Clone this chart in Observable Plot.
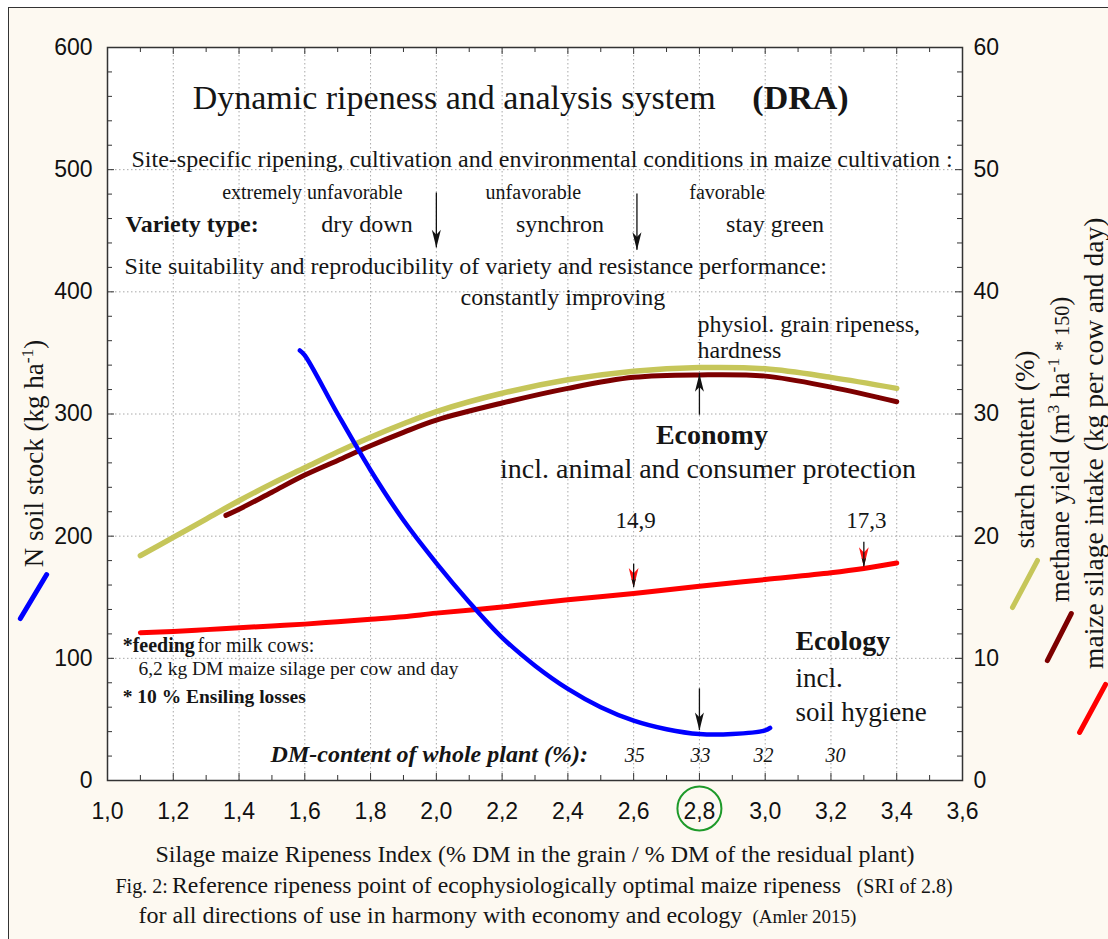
<!DOCTYPE html>
<html><head><meta charset="utf-8">
<script src="https://cdn.jsdelivr.net/npm/d3@7"></script>
<script src="https://cdn.jsdelivr.net/npm/@observablehq/plot@0.6"></script>
<style>
html,body{margin:0;padding:0;background:#fff;overflow:hidden}
#wrap{position:relative;width:1108px;height:939px}
#bg{position:absolute;left:8px;top:7px;right:0;bottom:0;background:#fdf9f1;border-left:1.5px solid #333;border-top:1.5px solid #333}
#chart{position:absolute;left:0;top:0}
</style></head><body>
<div id="wrap"><div id="bg"></div><div id="chart"></div></div>
<script>
// ---- tick values ----
const xTicks = [1.0,1.2,1.4,1.6,1.8,2.0,2.2,2.4,2.6,2.8,3.0,3.2,3.4,3.6];
const xMinor = [1.1,1.3,1.5,1.7,1.9,2.1,2.3,2.5,2.7,2.9,3.1,3.3,3.5];
const yTicksLeft = [0,100,200,300,400,500,600];
const yMinor = [20,40,60,80,120,140,160,180,220,240,260,280,320,340,360,380,420,440,460,480,520,540,560,580];
const rightTickLabels = ["0","10","20","30","40","50","60"];

// ---- series (left axis: N soil stock kg/ha) ----
const nSoilSRI   = [1.585,1.6,1.7,1.8,1.9,2.0,2.1,2.2,2.3,2.4,2.5,2.6,2.7,2.8,2.9,3.0,3.015];
const nSoilStock = [352,348,300,254,213,178,146,117,94,75,60,49,42,38,38,41,43];
// ---- series (right axis, 0-60) ----
const starchSRI = [1.1,1.2,1.3,1.4,1.5,1.6,1.7,1.8,1.9,2.0,2.2,2.4,2.6,2.8,3.0,3.2,3.4];
const starchPct = [18.4,19.9,21.4,22.9,24.3,25.6,26.9,28.1,29.2,30.2,31.7,32.8,33.5,33.8,33.7,33.0,32.1];
const methaneSRI = [1.36,1.4,1.5,1.6,1.7,1.8,1.9,2.0,2.2,2.4,2.6,2.8,3.0,3.2,3.4];
const methaneYield = [21.7,22.2,23.6,25.0,26.2,27.4,28.5,29.5,30.9,32.1,33.0,33.2,33.1,32.2,31.0];
const intakeSRI = [1.1,1.2,1.3,1.4,1.5,1.6,1.7,1.8,1.9,2.0,2.2,2.4,2.6,2.8,3.0,3.2,3.3,3.4];
const silageIntake = [12.1,12.2,12.35,12.5,12.65,12.8,13.0,13.2,13.4,13.7,14.2,14.8,15.3,15.9,16.45,17.0,17.35,17.8];

// ---- annotation arrows (SRI, from, to in left-axis units) ----
const arrowsDown = [{x:2.0,from:481,to:436},{x:2.61,from:480,to:434},{x:2.8,from:75,to:41}];
const arrowsUp = [{x:2.8,from:299,to:333}];
const redMarks = [{x:2.6,from:177,to:158},{x:3.3,from:195,to:175}];

const ratio = 10; // right axis scale factor
const zip = (xs, ys, k=1) => xs.map((x,i) => ({x, y: ys[i]*k}));
const nSoil = zip(nSoilSRI, nSoilStock);
const starch = zip(starchSRI, starchPct, ratio);
const methane = zip(methaneSRI, methaneYield, ratio);
const intake = zip(intakeSRI, silageIntake, ratio);

const fmt = d => d.toFixed(1).replace(".", ",");
const serif = "Liberation Serif";
const ink = "#151515";
function T(text, x, y, o = {}) {
  return Plot.text([text], {x, y, text: d => d, fontFamily: serif, fontSize: o.size || 24,
    fontWeight: o.weight || "normal", fontStyle: o.style || "normal", textAnchor: o.anchor || "start",
    lineAnchor: o.line || "bottom", rotate: o.rotate || 0, fill: o.fill || ink});
}
const headDown = {draw(ctx, size) { const s = Math.sqrt(size / Math.PI);
  ctx.moveTo(0, 0); ctx.lineTo(-0.75*s, -3*s); ctx.lineTo(0, -2.2*s); ctx.lineTo(0.75*s, -3*s); ctx.closePath(); }};
const headUp = {draw(ctx, size) { const s = Math.sqrt(size / Math.PI);
  ctx.moveTo(0, 0); ctx.lineTo(-0.75*s, 3*s); ctx.lineTo(0, 2.2*s); ctx.lineTo(0.75*s, 3*s); ctx.closePath(); }};

const W = 1108, H = 939, mL = 107, mR = 146, mT = 47, mB = 159;
const fw = W - mL - mR, fh = H - mT - mB;

const swatches = [
  {x1:0.735,y1:132.6,x2:0.815,y2:168.6,c:"#0000ff"},
  {x1:3.752,y1:141.6,x2:3.828,y2:180.1,c:"#c6c65a"},
  {x1:3.858,y1:98.2,x2:3.931,y2:136.7,c:"#7d0000"},
  {x1:3.956,y1:39.3,x2:4.035,y2:78.6,c:"#ff0000"}
];

const plot = Plot.plot({
  width: W, height: H, marginLeft: mL, marginRight: mR, marginTop: mT, marginBottom: mB,
  x: {domain: [1.0, 3.6], axis: null},
  y: {domain: [0, 600], axis: null},
  style: {background: "transparent", fontFamily: "Liberation Sans", fontSize: "23px", color: "#111", overflow: "visible"},
  marks: [
    Plot.frame({fill: "white", stroke: null}),
    Plot.gridX(xTicks.slice(1, -1), {stroke: "#a8a8a8", strokeOpacity: 1, strokeDasharray: "1.5,2.5"}),
    Plot.gridY(yTicksLeft.slice(1, -1), {stroke: "#a8a8a8", strokeOpacity: 1, strokeDasharray: "1.5,2.5"}),
    // inward ticks
    Plot.tickX(xTicks, {x: d => d, insetTop: fh - 7, stroke: "#333"}),
    Plot.tickX(xMinor, {x: d => d, insetTop: fh - 5, stroke: "#333"}),
    Plot.tickX(xTicks, {x: d => d, insetBottom: fh - 7, stroke: "#333"}),
    Plot.tickX(xMinor, {x: d => d, insetBottom: fh - 5, stroke: "#333"}),
    Plot.tickY(yTicksLeft, {y: d => d, insetRight: fw - 7, stroke: "#333"}),
    Plot.tickY(yMinor, {y: d => d, insetRight: fw - 5, stroke: "#333"}),
    Plot.tickY(yTicksLeft, {y: d => d, insetLeft: fw - 7, stroke: "#333"}),
    Plot.tickY(yMinor, {y: d => d, insetLeft: fw - 5, stroke: "#333"}),
    Plot.frame({stroke: "#333", strokeWidth: 1.5}),
    Plot.axisX(xTicks, {tickSize: 0, tickPadding: 22, tickFormat: fmt, label: null, fontSize: 23}),
    Plot.axisY(yTicksLeft, {anchor: "left", tickSize: 0, tickPadding: 15, label: null, fontSize: 23}),
    Plot.axisY(yTicksLeft, {anchor: "right", tickSize: 0, tickPadding: 11, label: null, fontSize: 23,
      tickFormat: (d, i) => rightTickLabels[i]}),
    // curves
    Plot.line(starch, {x: "x", y: "y", stroke: "#c6c65a", strokeWidth: 5.5, curve: "catmull-rom"}),
    Plot.line(methane, {x: "x", y: "y", stroke: "#7d0000", strokeWidth: 5, curve: "catmull-rom"}),
    Plot.line(intake, {x: "x", y: "y", stroke: "#ff0000", strokeWidth: 5, curve: "catmull-rom"}),
    Plot.line(nSoil, {x: "x", y: "y", stroke: "#0000ff", strokeWidth: 4.5, curve: "catmull-rom"}),
    // legend swatches
    Plot.link(swatches, {x1: "x1", y1: "y1", x2: "x2", y2: "y2", stroke: "c", strokeWidth: 5, strokeLinecap: "round"}),
    // arrows
    Plot.ruleX(arrowsDown, {x: "x", y1: "from", y2: "to", stroke: "#111", strokeWidth: 1.3}),
    Plot.dot(arrowsDown, {x: "x", y: "to", symbol: headDown, r: 6, fill: "#111", stroke: null}),
    Plot.ruleX(arrowsUp, {x: "x", y1: "from", y2: "to", stroke: "#111", strokeWidth: 1.3}),
    Plot.dot(arrowsUp, {x: "x", y: "to", symbol: headUp, r: 6, fill: "#111", stroke: null}),
    Plot.dot(redMarks, {x: "x", y: "to", symbol: headDown, r: 6.5, fill: "#ff1010", stroke: null}),
    Plot.ruleX(redMarks, {x: "x", y1: "from", y2: "to", stroke: "#111", strokeWidth: 1.3}),
    Plot.dot(redMarks, {x: "x", y: "to", symbol: headDown, r: 3, fill: "#111", stroke: null}),
    // circle around 2,8
    Plot.dot([2.8], {x: d => d, y: -22.9, r: 22, stroke: "#1e9a2a", strokeWidth: 2, fill: "none"}),
    // texts
    T("Dynamic ripeness and analysis system", 1.259, 550, {size: 34}),
    T("(DRA)", 2.961, 550, {size: 34, weight: "bold"}),
    T("Site-specific ripening, cultivation and environmental conditions in maize cultivation :", 1.073, 502, {size: 24}),
    T("extremely unfavorable", 1.623, 475.6, {size: 20, anchor: "middle"}),
    T("unfavorable", 2.295, 475.6, {size: 20, anchor: "middle"}),
    T("favorable", 2.884, 475.6, {size: 20, anchor: "middle"}),
    T("Variety type:", 1.055, 448.6, {size: 24, weight: "bold"}),
    T("dry down", 1.789, 448.6, {size: 24, anchor: "middle"}),
    T("synchron", 2.376, 448.6, {size: 24, anchor: "middle"}),
    T("stay green", 3.030, 448.6, {size: 24, anchor: "middle"}),
    T("Site suitability and reproducibility of variety and resistance performance:", 1.052, 415, {size: 24}),
    T("constantly improving", 2.385, 389.6, {size: 24, anchor: "middle"}),
    T("physiol. grain ripeness,", 2.794, 367.5, {size: 24}),
    T("hardness", 2.794, 346.2, {size: 24}),
    T("Economy", 2.838, 275.8, {size: 28, weight: "bold", anchor: "middle"}),
    T("incl. animal and consumer protection", 2.826, 248, {size: 28, anchor: "middle"}),
    T("14,9", 2.606, 206.3, {size: 23, anchor: "middle"}),
    T("17,3", 3.308, 206.3, {size: 23, anchor: "middle"}),
    T("Ecology", 3.092, 107, {size: 28, weight: "bold"}),
    T("incl.", 3.092, 76.5, {size: 27}),
    T("soil hygiene", 3.092, 49.1, {size: 27}),
    T("*feeding", 1.046, 105, {size: 20, weight: "bold"}),
    T("for milk cows:", 1.274, 105, {size: 20}),
    T("6,2 kg DM maize silage per cow and day", 1.094, 86, {size: 19.5}),
    T("* 10 % Ensiling losses", 1.046, 63.3, {size: 19.5, weight: "bold"}),
    T("DM-content of whole plant (%):", 1.496, 15.5, {size: 24, weight: "bold", style: "italic"}),
    T("35", 2.603, 15.5, {size: 20, style: "italic", anchor: "middle"}),
    T("33", 2.803, 15.5, {size: 20, style: "italic", anchor: "middle"}),
    T("32", 2.995, 15.5, {size: 20, style: "italic", anchor: "middle"}),
    T("30", 3.214, 15.5, {size: 20, style: "italic", anchor: "middle"}),
    // captions below
    T("Silage maize Ripeness Index (% DM in the grain / % DM of the residual plant)", 2.300, -67.1, {size: 24, anchor: "middle"}),
    T("Fig. 2:", 1.0243, -91.7, {size: 20}),
    T("Reference ripeness point of ecophysiologically optimal maize ripeness", 1.196, -91.7, {size: 23.7}),
    T("(SRI of 2.8)", 3.278, -91.7, {size: 20}),
    T("for all directions of use in harmony with economy and ecology", 1.0943, -117, {size: 24}),
    T("(Amler 2015)", 2.9614, -117, {size: 19}),
    // axis titles
    T("N soil stock (kg ha^-1^)", 0.778, 267.7, {size: 27, anchor: "middle", line: "middle", rotate: -90}),
    T("starch content (%)", 3.7915, 270.9, {size: 27, anchor: "middle", line: "middle", rotate: -90}),
    T("methane yield (m^3^ ha^-1^ ~* 150~)", 3.898, 271, {size: 27, anchor: "middle", line: "middle", rotate: -90}),
    T("maize silage intake (kg per cow and day)", 4.001, 276, {size: 27.5, anchor: "middle", line: "middle", rotate: -90})
  ]
});

// mini markup: ^...^ superscript, ~...~ smaller text
d3.select(plot).selectAll("text").each(function() {
  const s = this.textContent;
  if (!/[\^~]/.test(s) || this.querySelector("tspan")) return;
  const parts = s.split(/(\^[^\^]*\^|~[^~]*~)/).filter(p => p.length);
  this.textContent = "";
  parts.forEach(p => {
    const t = document.createElementNS("http://www.w3.org/2000/svg", "tspan");
    if (p[0] === "^") { t.textContent = p.slice(1, -1); t.setAttribute("baseline-shift", "super"); t.setAttribute("font-size", "65%"); }
    else if (p[0] === "~") { t.textContent = p.slice(1, -1); t.setAttribute("font-size", "75%"); }
    else t.textContent = p;
    this.appendChild(t);
  });
});
document.getElementById("chart").appendChild(plot);
</script>
</body></html>
